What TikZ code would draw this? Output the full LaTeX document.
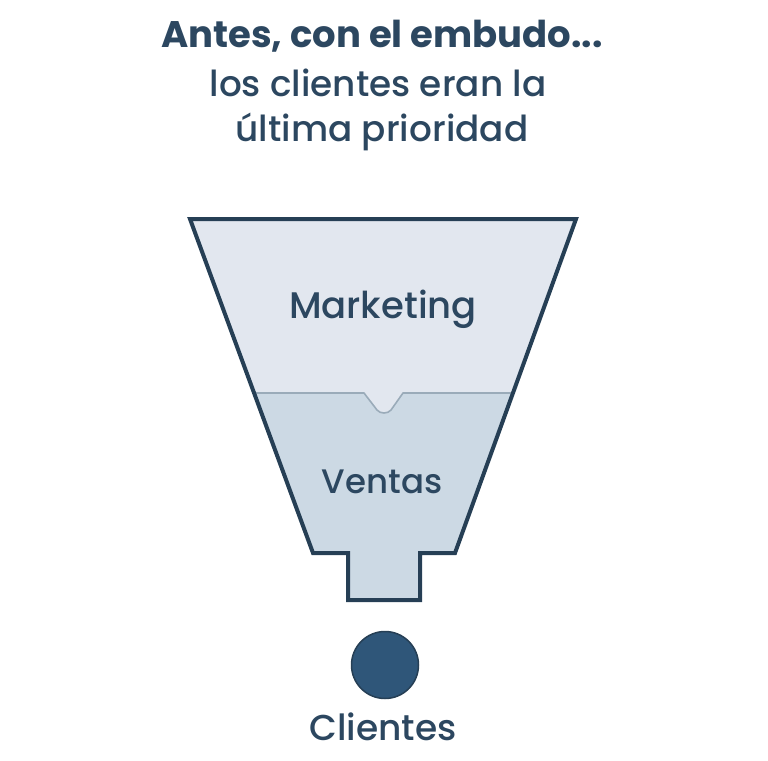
\documentclass[tikz,border=0pt]{standalone}
\usepackage{fontspec}
\setmainfont{Poppins}[UprightFont=* Medium, BoldFont=* Bold]
\definecolor{ink}{HTML}{2C4760}
\definecolor{edge}{HTML}{263F55}
\definecolor{topfill}{HTML}{E2E7EF}
\definecolor{lowfill}{HTML}{CCD9E4}
\definecolor{divline}{HTML}{9AABB9}
\definecolor{dot}{HTML}{2F5679}
\tikzset{
  label text/.style={text=ink, inner sep=0pt, anchor=base},
  title text/.style={text=ink, inner sep=0pt, anchor=base, align=center},
}
\begin{document}
\begin{tikzpicture}[x=1pt,y=-1pt]
\useasboundingbox (0,0) rectangle (768,760);
% funnel shape
\coordinate (TL) at (190,219);
\coordinate (TR) at (576,219);
\coordinate (L1) at (313,553);
\coordinate (LS) at (348,553);
\coordinate (SB1) at (348,600);
\coordinate (SB2) at (420,600);
\coordinate (RS) at (420,553);
\coordinate (R1) at (455,553);
\coordinate (DL) at (254,393);
\coordinate (DR) at (513,393);
\fill[lowfill] (TL) -- (TR) -- (R1) -- (RS) -- (SB2) -- (SB1) -- (LS) -- (L1) -- cycle;
\fill[topfill] (TL) -- (TR) -- (DR) -- (403,393) -- (391,410) .. controls (388,414) and (380,414) .. (377,410) -- (364,393) -- (DL) -- cycle;
\draw[divline, line width=1.6pt, line join=round] (DL) -- (364,393) -- (377,410) .. controls (380,414) and (388,414) .. (391,410) -- (403,393) -- (DR);
\draw[edge, line width=4pt, line join=miter] (TL) -- (TR) -- (R1) -- (RS) -- (SB2) -- (SB1) -- (LS) -- (L1) -- cycle;
% texts
\node[title text, font=\bfseries\fontsize{37}{40}\selectfont] (t1) at (382,48) {Antes, con el embudo...};
\node[title text, font=\fontsize{35.8}{40}\selectfont] (t2) at (378,96) {los clientes eran la};
\node[title text, font=\fontsize{35.8}{40}\selectfont] (t3) at (382,141) {última prioridad};
\node[label text, font=\fontsize{37}{40}\selectfont] (mkt) at (383,318) {Marketing};
\node[label text, font=\fontsize{34}{40}\selectfont] (vts) at (382,493) {Ventas};
\node[circle, fill=dot, draw=edge, line width=1.5pt, minimum size=67pt, inner sep=0pt] (cli) at (385,665) {};
\node[label text, font=\fontsize{36}{40}\selectfont] (clt) at (383,740) {Clientes};
\end{tikzpicture}
\end{document}
